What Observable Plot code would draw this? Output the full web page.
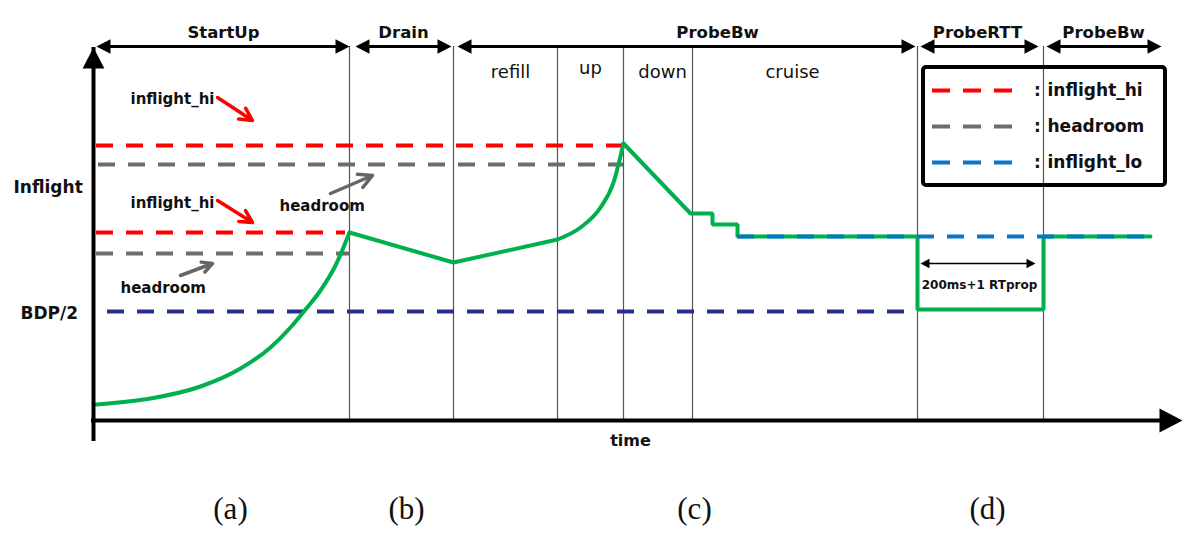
<!DOCTYPE html>
<html><head><meta charset="utf-8">
<script src="https://cdn.jsdelivr.net/npm/d3@7"></script>
<script src="https://cdn.jsdelivr.net/npm/@observablehq/plot@0.6"></script>
<style>body{margin:0;background:#fff}</style>
</head><body><div id="chart"></div>
<script>
// ---- data (time units on x, inflight units on y) ----
const phaseNames = ["StartUp", "Drain", "ProbeBw", "ProbeRTT", "ProbeBw"];
const phaseStart = [0.3, 26.2, 36.4, 82.7, 95.3];
const phaseEnd = [25.6, 35.8, 82.2, 94.5, 106.8];
const phaseLabelX = [13.0, 31.0, 62.4, 88.4, 101.0];
const phaseArrowY = 37.4;
const boundaryT = [25.6, 36.0, 46.4, 53.0, 59.9, 82.4, 95.0];
const subPhaseNames = ["refill", "up", "down", "cruise"];
const subPhaseX = [41.7, 49.7, 56.9, 69.9];
const subPhaseY = [34.3, 34.7, 34.3, 34.3];
const panelLabels = ["(a)", "(b)", "(c)", "(d)"];
const panelX = [13.7, 31.3, 60.1, 89.4];

const startupT = [0.3, 5.7, 10.7, 14.7, 17.7, 19.7, 21.2, 22.7, 24.2, 25.6];
const startupV = [1.6, 2.2, 3.4, 5.2, 7.3, 9.3, 11.1, 13.0, 15.5, 18.8];
const drainT = [25.6, 36.0, 46.4];
const drainV = [18.8, 15.8, 18.1];
const upT = [46.4, 48.7, 50.7, 52.0, 53.0];
const upV = [18.1, 19.3, 21.3, 23.8, 27.7];
const probeT = [53.0, 59.7, 61.9, 61.9, 64.4, 64.4, 82.4, 82.4, 95.0, 95.0, 105.7];
const probeV = [27.7, 20.7, 20.7, 19.6, 19.6, 18.4, 18.4, 11.1, 11.1, 18.4, 18.4];

const levelNames = ["inflight_hi", "headroom", "inflight_hi", "headroom", "BDP/2", "inflight_lo"];
const levelValue = [27.5, 25.6, 18.8, 16.7, 10.9, 18.4];
const levelStart = [0.3, 0.5, 0.3, 0.3, 1.4, 64.4];
const levelEnd = [53.0, 53.0, 25.2, 25.7, 82.4, 105.7];
const levelColor = ["#ff0000", "#6d6d6d", "#ff0000", "#6d6d6d", "#2b2f8c", "#0a74c8"];

const legendNames = ["inflight_hi", "headroom", "inflight_lo"];
const legendColor = ["#ff0000", "#6d6d6d", "#0a74c8"];
const legendY = [33.0, 29.4, 25.8];
const legendBox = {x1: 83.0, x2: 107.2, y1: 35.3, y2: 23.5};
const legendDashX = [83.9, 92.0];
const legendColonX = 94.4;
const legendTextX = 95.4;

const annText = ["inflight_hi", "inflight_hi", "headroom", "headroom"];
const annX = [3.7, 3.7, 18.6, 2.7];
const annY = [31.7, 21.3, 21.0, 12.8];
const annArrowX1 = [12.4, 12.4, 23.7, 8.7];
const annArrowY1 = [32.3, 22.0, 22.7, 14.5];
const annArrowX2 = [15.9, 15.9, 27.9, 11.9];
const annArrowY2 = [30.0, 19.8, 24.5, 15.7];
const annColor = ["#ff0000", "#ff0000", "#666666", "#666666"];

const yLabels = ["Inflight", "BDP/2"];
const yLabelX = [-8.0, -7.3];
const yLabelY = [22.8, 10.2];

const rtprop = {x1: 82.7, x2: 94.2, y: 15.7, label: "200ms+1 RTprop", lx: 88.6, ly: 13.2};
const axisTop = 37.3, axisRight = 108.9;

// ---- tables ----
const zip = (ts, vs, seg) => ts.map((t, i) => ({t, v: vs[i], seg}));
const curved = [...zip(startupT, startupV, "startup"), ...zip(upT, upV, "up")];
const straight = [...zip(drainT, drainV, "drain"), ...zip(probeT, probeV, "probe")];
const levels = levelNames.map((n, i) => ({n, v: levelValue[i], x1: levelStart[i], x2: levelEnd[i], c: levelColor[i]}));
const phases = phaseNames.map((n, i) => ({n, x1: phaseStart[i], x2: phaseEnd[i], lx: phaseLabelX[i]}));
const heads = phases.flatMap(p => [{x: p.x1, r: -90}, {x: p.x2, r: 90}]);
const legend = legendNames.map((n, i) => ({n, c: legendColor[i], y: legendY[i]}));
const ann = annText.map((s, i) => ({s, x: annX[i], y: annY[i], x1: annArrowX1[i], y1: annArrowY1[i], x2: annArrowX2[i], y2: annArrowY2[i], c: annColor[i]}));

const triangle = {draw(context, l) { const w = l * 0.52; context.moveTo(0, -l); context.lineTo(w, 0); context.lineTo(-w, 0); context.closePath(); }};
const bold = {fontFamily: "DejaVu Sans", fontWeight: "bold", fill: "#111"};

const chart = Plot.plot({
  width: 1203, height: 550, margin: 0,
  x: {domain: [-9.3, 111.0], axis: null},
  y: {domain: [-13.0, 42.0], axis: null},
  style: {background: "#fff", fontFamily: "DejaVu Sans"},
  marks: [
    // phase boundaries
    Plot.ruleX(boundaryT, {x: d => d, y1: 0, y2: phaseArrowY, stroke: "#555", strokeWidth: 1.2}),
    // levels (except inflight_lo)
    Plot.ruleY(levels.filter(d => d.n !== "inflight_lo"), {y: "v", x1: "x1", x2: "x2", stroke: "c", strokeWidth: 4, strokeDasharray: "17,13"}),
    // green inflight curve
    Plot.line(curved, {x: "t", y: "v", z: "seg", stroke: "#00b04f", strokeWidth: 4, curve: "monotone-x", strokeLinecap: "round"}),
    Plot.line(straight, {x: "t", y: "v", z: "seg", stroke: "#00b04f", strokeWidth: 4, strokeLinejoin: "miter", strokeLinecap: "round"}),
    Plot.ruleY(levels.filter(d => d.n === "inflight_lo"), {y: "v", x1: "x1", x2: "x2", stroke: "c", strokeWidth: 4, strokeDasharray: "17,13"}),
    // axes
    Plot.ruleX([0], {x: 0, y1: -0.2, y2: axisTop, insetTop: 19, stroke: "#000", strokeWidth: 4}),
    Plot.ruleY([0], {y: 0, x1: -0.2, x2: axisRight, insetRight: 21, stroke: "#000", strokeWidth: 4}),
    Plot.vector([0], {x: 0, y: axisTop, length: 21, rotate: 0, anchor: "end", shape: triangle, fill: "#000", stroke: "none"}),
    Plot.vector([0], {x: axisRight, y: 0, length: 23, rotate: 90, anchor: "end", shape: triangle, fill: "#000", stroke: "none"}),
    Plot.text(["time"], {x: 53.7, y: -2.5, text: d => d, lineAnchor: "bottom", fontSize: 16, ...bold}),
    // phase arrows
    Plot.ruleY(phases, {y: phaseArrowY, x1: "x1", x2: "x2", insetLeft: 10, insetRight: 10, stroke: "#000", strokeWidth: 3}),
    Plot.vector(heads, {x: "x", y: phaseArrowY, rotate: "r", length: 14, anchor: "end", shape: triangle, fill: "#000", stroke: "none"}),
    Plot.text(phases, {x: "lx", y: 38.3, text: "n", lineAnchor: "bottom", fontSize: 16.5, ...bold}),
    Plot.text(subPhaseNames, {x: (d, i) => subPhaseX[i], y: (d, i) => subPhaseY[i], text: d => d, lineAnchor: "bottom", fontSize: 18, fontFamily: "DejaVu Sans", fill: "#111"}),
    // y labels
    Plot.text(yLabels, {x: (d, i) => yLabelX[i], y: (d, i) => yLabelY[i], text: d => d, textAnchor: "start", lineAnchor: "bottom", fontSize: 17, ...bold}),
    // annotations
    Plot.text(ann, {x: "x", y: "y", text: "s", textAnchor: "start", lineAnchor: "bottom", fontSize: 15, ...bold}),
    Plot.arrow(ann, {x1: "x1", y1: "y1", x2: "x2", y2: "y2", stroke: "c", strokeWidth: 3.5, headLength: 11, headAngle: 55}),
    // RTprop arrow
    Plot.ruleY([rtprop], {y: "y", x1: "x1", x2: "x2", insetLeft: 6, insetRight: 6, stroke: "#000", strokeWidth: 1.5}),
    Plot.vector([{x: rtprop.x1, r: -90}, {x: rtprop.x2, r: 90}], {x: "x", y: rtprop.y, rotate: "r", length: 9, anchor: "end", shape: triangle, fill: "#000", stroke: "none"}),
    Plot.text([rtprop], {x: "lx", y: "ly", text: "label", lineAnchor: "bottom", fontSize: 12, ...bold}),
    // legend
    Plot.rect([legendBox], {x1: "x1", x2: "x2", y1: "y1", y2: "y2", fill: "none", stroke: "#000", strokeWidth: 4, rx: 3}),
    Plot.ruleY(legend, {y: "y", x1: legendDashX[0], x2: legendDashX[1], stroke: "c", strokeWidth: 4, strokeDasharray: "18,13"}),
    Plot.text(legend, {x: legendColonX, y: "y", text: () => ":", lineAnchor: "middle", fontSize: 17, ...bold}),
    Plot.text(legend, {x: legendTextX, y: "y", text: "n", textAnchor: "start", lineAnchor: "middle", fontSize: 17, ...bold}),
    // panel labels
    Plot.text(panelLabels, {x: (d, i) => panelX[i], y: -9.8, text: d => d, lineAnchor: "bottom", fontSize: 31, fontFamily: "Liberation Serif", fill: "#111"})
  ]
});
document.getElementById("chart").append(chart);
</script>
</body></html>
